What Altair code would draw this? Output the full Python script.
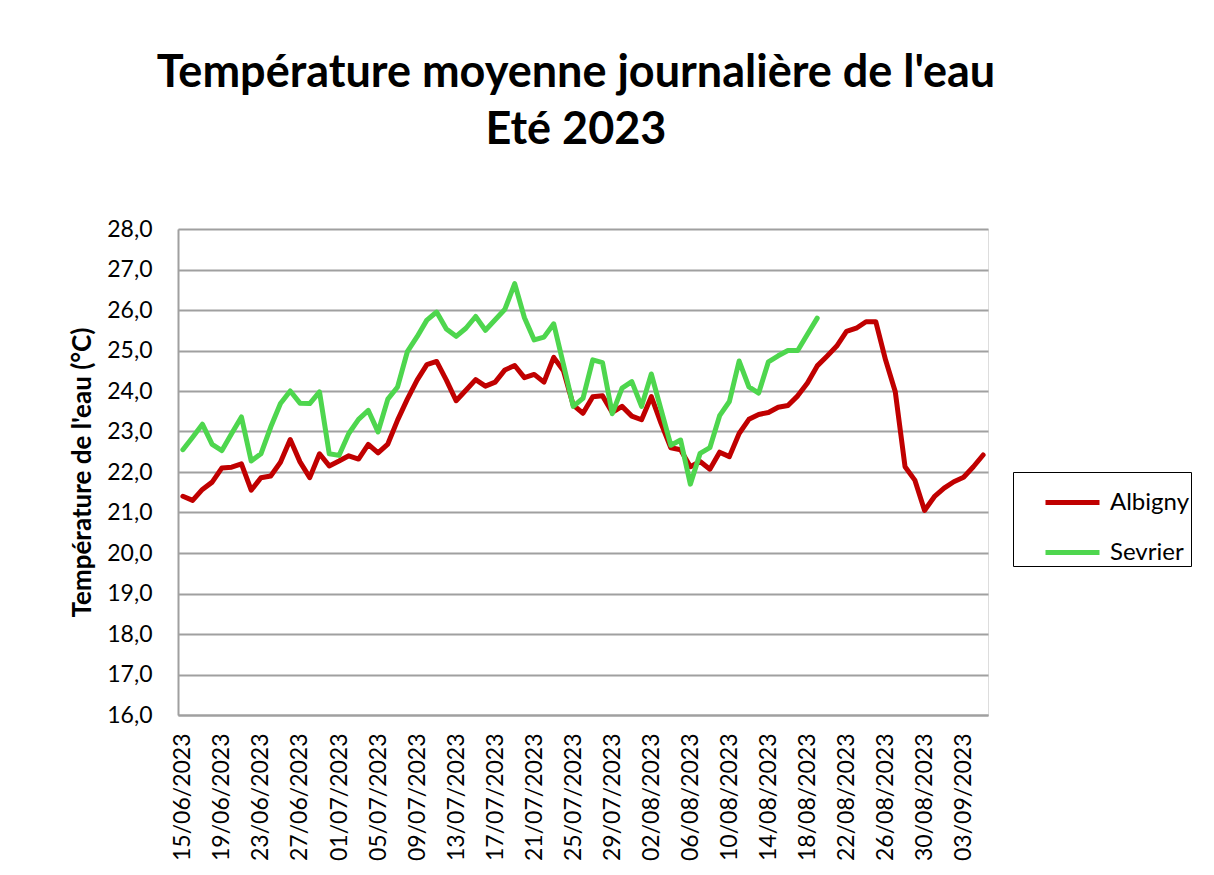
import altair as alt
import pandas as pd

# Daily dates (categories) from 15/06/2023 to 05/09/2023
dates = [d.strftime("%d/%m/%Y") for d in pd.date_range("2023-06-15", "2023-09-05", freq="D")]

albigny = [
    21.4, 21.3, 21.57, 21.75, 22.1, 22.12, 22.2, 21.55, 21.86, 21.9,
    22.24, 22.8, 22.25, 21.86, 22.45, 22.15, 22.27, 22.4, 22.32, 22.68,
    22.47, 22.69, 23.28, 23.8, 24.27, 24.65, 24.73, 24.27, 23.76, 24.02,
    24.28, 24.12, 24.22, 24.52, 24.63, 24.33, 24.41, 24.22, 24.83, 24.5,
    23.65, 23.45, 23.86, 23.88, 23.47, 23.62, 23.38, 23.29, 23.86, 23.2,
    22.6, 22.55, 22.13, 22.26, 22.07, 22.49, 22.38, 22.95, 23.3, 23.42,
    23.47, 23.6, 23.64, 23.88, 24.2, 24.62, 24.86, 25.11, 25.47, 25.55,
    25.71, 25.71, 24.77, 23.98, 22.13, 21.8, 21.05, 21.39, 21.6, 21.76,
    21.87, 22.13, 22.42,
]

sevrier = [
    22.55, 22.86, 23.18, 22.68, 22.53, 22.95, 23.36, 22.27, 22.45, 23.11,
    23.69, 24.0, 23.7, 23.69, 23.98, 22.45, 22.41, 22.95, 23.3, 23.52,
    22.99, 23.8, 24.1, 24.97, 25.34, 25.75, 25.95, 25.53, 25.35, 25.55,
    25.84, 25.5, 25.76, 26.02, 26.65, 25.81, 25.26, 25.33, 25.66, 24.65,
    23.62, 23.82, 24.77, 24.7, 23.44, 24.07, 24.23, 23.62, 24.42, 23.54,
    22.66, 22.79, 21.7, 22.46, 22.6, 23.39, 23.74, 24.74, 24.1, 23.95,
    24.72, 24.87, 25.0, 25.0, 25.4, 25.8,
]

series_names = ["Albigny", "Sevrier"]
series_colors = ["#C00000", "#4ED64E"]
y_ticks = [16, 17, 18, 19, 20, 21, 22, 23, 24, 25, 26, 27, 28]
x_tick_labels = dates[::4]

rows = []
for d, v in zip(dates, albigny):
    rows.append({"date": d, "serie": "Albigny", "temp": v})
for d, v in zip(dates, sevrier):
    rows.append({"date": d, "serie": "Sevrier", "temp": v})
df = pd.DataFrame(rows)

FONT = "Lato"

chart = (
    alt.Chart(df)
    .mark_line(strokeWidth=5, strokeJoin="round", strokeCap="round")
    .encode(
        x=alt.X(
            "date:O",
            sort=dates,
            scale=alt.Scale(domain=dates, type="point", padding=0.5),
            axis=alt.Axis(
                title=None,
                values=x_tick_labels,
                labelAngle=270,
                labelFontSize=23,
                labelPadding=18,
                ticks=False,
                grid=False,
                labelOverlap=False,
                domainColor="#a0a0a0",
                domainWidth=2,
                labelColor="black",
                labelFont=FONT,
            ),
        ),
        y=alt.Y(
            "temp:Q",
            scale=alt.Scale(domain=[16, 28], nice=False, zero=False),
            axis=alt.Axis(
                title="Température de l'eau (°C)",
                values=y_ticks,
                labelExpr="replace(format(datum.value, '.1f'), '.', ',')",
                labelFontSize=23,
                labelPadding=26,
                ticks=False,
                titleFontSize=26,
                titleFontWeight="bold",
                titlePadding=11,
                titleColor="black",
                titleFont=FONT,
                labelColor="black",
                labelFont=FONT,
                gridColor="#a0a0a0",
                gridWidth=2,
                domainColor="#a0a0a0",
                domainWidth=2,
            ),
        ),
        color=alt.Color(
            "serie:N",
            scale=alt.Scale(domain=series_names, range=series_colors),
            legend=alt.Legend(
                title=None,
                orient="none",
                legendX=835,
                legendY=243,
                symbolType="stroke",
                symbolStrokeWidth=5,
                symbolSize=2916,
                symbolOffset=29,
                labelOffset=8,
                labelFontSize=24,
                labelFont=FONT,
                labelColor="black",
                rowPadding=8,
                padding=1,
                strokeColor="black",
            ),
        ),
    )
    .properties(
        width=810,
        height=486,
        title=alt.TitleParams(
            text=["Température moyenne journalière de l'eau", "Eté 2023"],
            fontSize=45,
            font=FONT,
            fontWeight="bold",
            color="black",
            anchor="middle",
            dx=-7,
            offset=65,
            lineHeight=57,
        ),
        autosize=alt.AutoSizeParams(type="none"),
        padding={"left": 170, "top": 221, "right": 218, "bottom": 152},
    )
    .configure_view(stroke=None)
    .configure(background="white")
)

chart.save("out.html", embed_options={"renderer": "svg", "actions": False})
